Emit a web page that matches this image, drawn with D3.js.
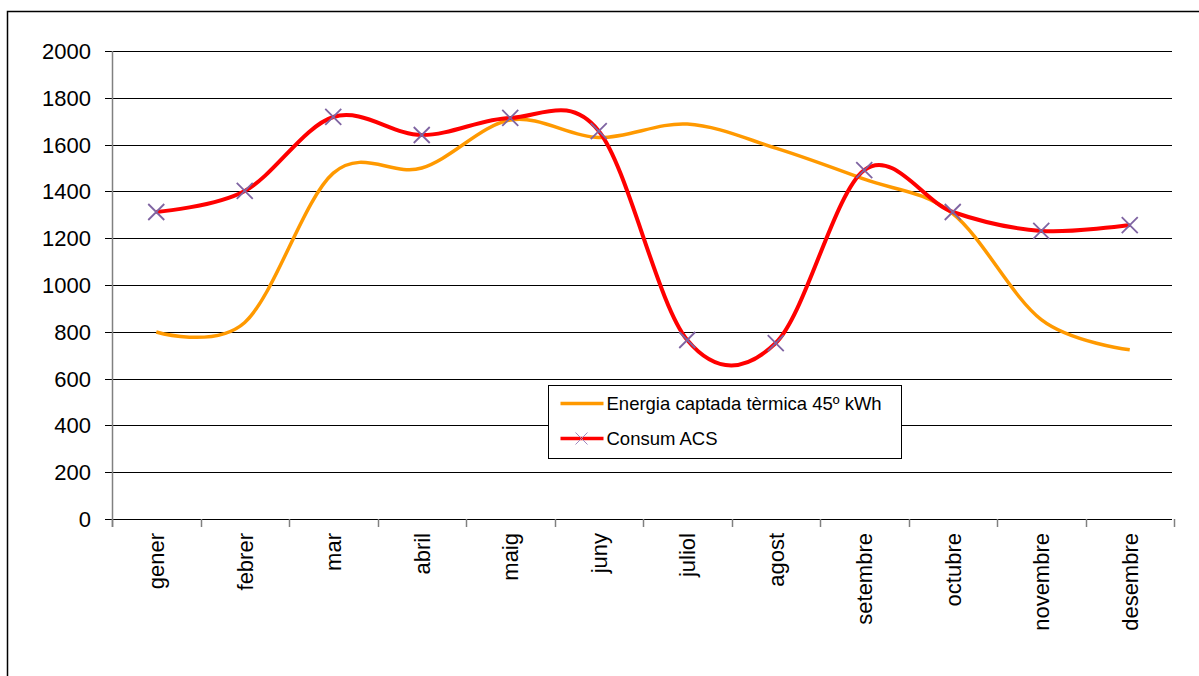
<!DOCTYPE html>
<html>
<head>
<meta charset="utf-8">
<script src="https://cdn.jsdelivr.net/npm/d3@7"></script>
<style>
body { margin: 0; background: #fff; }
svg { display: block; font-family: "Liberation Sans", Arial, sans-serif; }
</style>
</head>
<body>
<div id="chart"></div>
<script>
var months = ["gener", "febrer", "mar", "abril", "maig", "juny", "juliol", "agost", "setembre", "octubre", "novembre", "desembre"]
var energia = [799, 840, 1478, 1500, 1705, 1630, 1688, 1585, 1452, 1305, 852, 723]
var consum = [1312, 1402, 1718, 1641, 1714, 1658, 765, 752, 1491, 1312, 1231, 1256]
var yTicks = [0, 200, 400, 600, 800, 1000, 1200, 1400, 1600, 1800, 2000]

var width = 1199, height = 676
var mLeft = 112, mRight = 1174, mTop = 51, mBottom = 519

var svg = d3.select("#chart").append("svg")
    .attr("width", width)
    .attr("height", height)

// outer frame (only top and left visible)
svg.append("path")
    .attr("d", "M7.5,676 L7.5,11.5 L1199,11.5")
    .attr("fill", "none")
    .attr("stroke", "#000")
    .attr("stroke-width", 1.5)

var x = d3.scaleBand().domain(months).range([mLeft, mRight])
var y = d3.scaleLinear().domain([0, 2000]).range([mBottom, mTop])

// gridlines
svg.append("g").selectAll("line")
    .data(yTicks)
    .enter().append("line")
    .attr("x1", mLeft - 7)
    .attr("x2", mRight - 2)
    .attr("y1", d => Math.round(y(d)) + 0.5)
    .attr("y2", d => Math.round(y(d)) + 0.5)
    .attr("stroke", "#000")
    .attr("stroke-width", 1.2)

// y tick labels
svg.append("g").selectAll("text")
    .data(yTicks)
    .enter().append("text")
    .attr("x", 91)
    .attr("y", d => y(d) + 8)
    .attr("text-anchor", "end")
    .attr("font-size", 22)
    .attr("fill", "#000")
    .text(d => d)

// y axis line
svg.append("line")
    .attr("x1", mLeft + 0.5).attr("x2", mLeft + 0.5)
    .attr("y1", mTop).attr("y2", mBottom + 8)
    .attr("stroke", "#808080")
    .attr("stroke-width", 1.5)

// x axis ticks
var xTickPos = months.map(m => x(m)).concat([mRight])
svg.append("g").selectAll("line")
    .data(xTickPos)
    .enter().append("line")
    .attr("x1", d => Math.round(d) + 0.5)
    .attr("x2", d => Math.round(d) + 0.5)
    .attr("y1", mBottom)
    .attr("y2", mBottom + 8)
    .attr("stroke", "#808080")
    .attr("stroke-width", 1.5)

// x labels rotated
svg.append("g").selectAll("text")
    .data(months)
    .enter().append("text")
    .attr("transform", d => "translate(" + (x(d) + x.bandwidth() / 2 + 8) + "," + 533 + ") rotate(-90)")
    .attr("text-anchor", "end")
    .attr("font-size", 22)
    .attr("fill", "#000")
    .text(d => d)

var cx = (d, i) => x(months[i]) + x.bandwidth() / 2

var line = d3.line()
    .x((d, i) => cx(d, i))
    .y(d => y(d))
    .curve(d3.curveCardinal.tension(0))

svg.append("path")
    .datum(energia)
    .attr("d", line)
    .attr("fill", "none")
    .attr("stroke", "#ff9900")
    .attr("stroke-width", 3.5)

svg.append("path")
    .datum(consum)
    .attr("d", line)
    .attr("fill", "none")
    .attr("stroke", "#ff0000")
    .attr("stroke-width", 4)

var mk = 8
svg.append("g").selectAll("path")
    .data(consum)
    .enter().append("path")
    .attr("d", (d, i) => {
        var px = cx(d, i), py = y(d)
        return "M" + (px - mk) + "," + (py - mk) + "L" + (px + mk) + "," + (py + mk) +
            "M" + (px - mk) + "," + (py + mk) + "L" + (px + mk) + "," + (py - mk)
    })
    .attr("stroke", "#7f64a2")
    .attr("stroke-width", 1.8)
    .attr("fill", "none")

// legend
var lg = svg.append("g").attr("transform", "translate(548.5,385.5)")
lg.append("rect")
    .attr("width", 353)
    .attr("height", 73)
    .attr("fill", "#fff")
    .attr("stroke", "#000")
    .attr("stroke-width", 1)

var legendItems = [
    { name: "Energia captada tèrmica 45º kWh", color: "#ff9900", marker: false },
    { name: "Consum ACS", color: "#ff0000", marker: true }
]
legendItems.forEach((it, i) => {
    var ly = 18 + i * 35
    lg.append("line")
        .attr("x1", 12).attr("x2", 55)
        .attr("y1", ly).attr("y2", ly)
        .attr("stroke", it.color)
        .attr("stroke-width", 3.5)
    if (it.marker) {
        lg.append("path")
            .attr("d", "M27," + (ly - 6) + "L39," + (ly + 6) + "M27," + (ly + 6) + "L39," + (ly - 6))
            .attr("stroke", "#9f8ac0")
            .attr("stroke-width", 1)
    }
    lg.append("text")
        .attr("x", 58)
        .attr("y", ly + 6)
        .attr("font-size", 18.5)
        .attr("fill", "#000")
        .text(it.name)
})
</script>
</body>
</html>
